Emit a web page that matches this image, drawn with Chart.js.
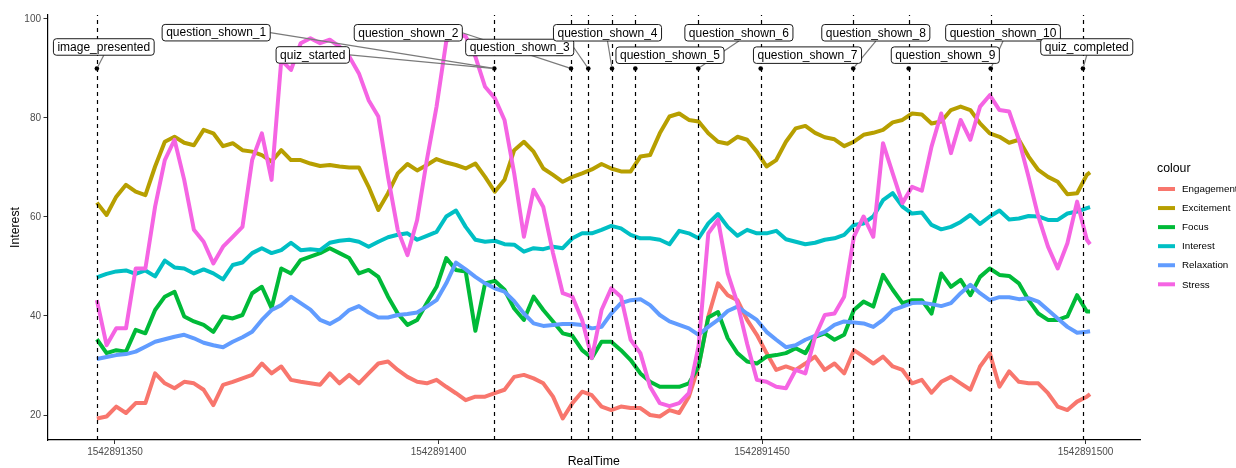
<!DOCTYPE html>
<html>
<head>
<meta charset="utf-8">
<title>Interest over RealTime</title>
<script src="https://cdn.jsdelivr.net/npm/chart.js@4.4.0/dist/chart.umd.min.js"></script>
<style>
  html, body { margin: 0; padding: 0; background: #ffffff; }
  #wrap { width: 1236px; height: 468px; }
</style>
</head>
<body>
<div id="wrap"><canvas id="chart" width="1236" height="468"></canvas></div>
<script>
// ---- data -------------------------------------------------------------
const baseTime = 1542891300;           // RealTime = baseTime + seconds

const seconds = [47.2, 48.7, 50.2, 51.7, 53.2, 54.7, 56.2, 57.7, 59.2, 60.7,
  62.2, 63.7, 65.2, 66.7, 68.2, 69.7, 71.2, 72.7, 74.2, 75.7,
  77.2, 78.7, 80.2, 81.7, 83.2, 84.7, 86.2, 87.7, 89.2, 90.7,
  92.2, 93.7, 95.2, 96.7, 98.2, 99.7, 101.2, 102.7, 104.2, 105.7,
  107.2, 108.7, 110.2, 111.7, 113.2, 114.7, 116.2, 117.7, 119.2, 120.7,
  122.2, 123.7, 125.2, 126.7, 128.2, 129.7, 131.2, 132.7, 134.2, 135.7,
  137.2, 138.7, 140.2, 141.7, 143.2, 144.7, 146.2, 147.7, 149.2, 150.7,
  152.2, 153.7, 155.2, 156.7, 158.2, 159.7, 161.2, 162.7, 164.2, 165.7,
  167.2, 168.7, 170.2, 171.7, 173.2, 174.7, 176.2, 177.7, 179.2, 180.7,
  182.2, 183.7, 185.2, 186.7, 188.2, 189.7, 191.2, 192.7, 194.2, 195.7,
  197.2, 198.7, 200.2, 200.7];

const engagement = [19.3, 19.7, 21.7, 20.4, 22.4, 22.4, 28.4, 26.4, 25.4, 26.7,
  26.4, 25.1, 22.0, 26.1, 26.7, 27.4, 28.1, 30.4, 28.4, 29.8,
  27.1, 26.7, 26.4, 26.1, 28.4, 26.4, 28.1, 26.4, 28.4, 30.4,
  30.8, 29.1, 27.7, 26.7, 26.4, 27.1, 25.7, 24.4, 23.0, 23.7,
  23.7, 24.4, 25.1, 27.7, 28.1, 27.4, 26.4, 23.7, 19.3, 22.4,
  24.7, 24.0, 21.7, 21.0, 21.7, 21.4, 21.4, 20.0, 19.7, 21.0,
  20.4, 23.7, 29.8, 39.9, 46.6, 44.2, 43.2, 39.2, 36.2, 32.5,
  29.1, 29.8, 29.1, 30.4, 31.8, 29.1, 30.4, 28.4, 33.1, 31.8,
  30.4, 31.8, 29.8, 29.1, 26.4, 27.1, 24.5, 26.7, 27.7, 26.4,
  25.1, 29.8, 32.5, 25.7, 28.8, 26.7, 26.4, 26.4, 24.4, 21.7,
  21.0, 22.7, 23.7, 24.2];

const excitement = [62.9, 60.4, 64.1, 66.5, 65.1, 64.4, 70.2, 75.2, 76.2, 75.0,
  74.5, 77.6, 76.9, 74.3, 74.9, 73.5, 73.2, 72.5, 71.2, 73.5,
  71.5, 71.5, 70.8, 70.3, 70.5, 70.2, 70.0, 70.0, 66.1, 61.4,
  64.8, 68.8, 70.7, 69.4, 70.5, 71.7, 71.0, 70.5, 69.8, 70.8,
  68.1, 65.1, 67.5, 73.5, 75.2, 73.2, 69.8, 68.5, 67.1, 68.1,
  68.8, 69.6, 70.7, 69.8, 69.2, 69.2, 72.2, 72.5, 76.9, 80.3,
  80.9, 79.6, 79.3, 76.9, 75.2, 74.8, 76.2, 75.6, 73.2, 70.2,
  71.5, 75.2, 77.9, 78.4, 77.0, 76.1, 75.7, 74.3, 75.2, 76.6,
  77.0, 77.6, 79.1, 79.6, 80.9, 80.7, 78.9, 79.3, 81.6, 82.3,
  81.6, 78.9, 76.9, 76.2, 75.0, 75.6, 72.2, 69.5, 68.1, 67.1,
  64.6, 64.8, 68.5, 69.0];

const focus = [35.3, 32.5, 33.1, 32.8, 37.2, 36.5, 41.2, 43.9, 44.9, 39.9,
  38.9, 38.2, 36.8, 39.9, 39.5, 40.2, 44.6, 45.9, 41.6, 49.6,
  48.6, 51.3, 52.0, 52.7, 53.7, 52.7, 51.7, 48.6, 49.3, 47.9,
  43.9, 40.5, 38.2, 39.2, 42.6, 45.9, 51.7, 49.3, 49.0, 37.0,
  46.6, 47.1, 45.3, 41.5, 39.2, 43.9, 41.2, 38.9, 36.5, 36.0,
  33.1, 31.5, 34.8, 34.8, 33.1, 31.1, 28.4, 26.7, 25.7, 25.7,
  25.7, 26.4, 29.8, 39.7, 40.8, 35.5, 32.5, 30.8, 30.4, 31.8,
  32.1, 32.5, 33.5, 32.5, 35.8, 36.5, 35.2, 36.2, 41.2, 42.9,
  41.9, 48.3, 45.3, 42.6, 43.2, 43.2, 40.5, 48.6, 45.9, 47.3,
  44.2, 47.9, 49.6, 48.3, 48.1, 46.6, 43.2, 40.5, 39.2, 39.2,
  39.9, 44.2, 40.9, 40.9];

const interest = [47.8, 48.5, 49.0, 49.2, 48.5, 49.2, 48.0, 51.2, 49.8, 49.6,
  48.6, 49.4, 48.6, 47.4, 50.3, 50.8, 52.7, 53.7, 52.7, 53.3,
  54.8, 53.3, 53.5, 53.3, 54.8, 55.2, 55.4, 55.0, 54.0, 55.0,
  55.9, 56.4, 56.7, 55.4, 56.2, 57.0, 60.1, 61.3, 58.0, 55.4,
  55.0, 55.2, 54.5, 54.4, 53.0, 53.7, 53.5, 54.0, 53.7, 55.7,
  56.7, 56.7, 57.4, 58.2, 57.7, 56.4, 55.7, 55.7, 55.4, 54.5,
  57.2, 56.7, 55.7, 58.7, 60.6, 58.0, 56.2, 57.4, 56.7, 56.7,
  57.2, 55.5, 55.0, 54.5, 54.8, 55.4, 55.7, 56.4, 58.4, 58.7,
  60.1, 63.4, 64.8, 62.1, 60.7, 60.9, 58.4, 57.5, 58.0, 59.0,
  60.4, 58.6, 60.1, 61.3, 59.5, 59.7, 60.2, 60.1, 59.4, 59.4,
  60.7, 61.1, 61.8, 62.0];

const relaxation = [31.3, 31.7, 32.1, 32.3, 32.8, 33.8, 34.8, 35.3, 35.8, 36.2,
  35.5, 34.6, 34.1, 33.7, 34.8, 35.7, 36.8, 39.2, 41.2, 42.2,
  43.9, 42.6, 41.3, 39.2, 38.4, 39.5, 41.2, 42.0, 40.7, 39.7,
  39.7, 40.2, 40.4, 40.7, 41.9, 43.2, 46.6, 50.8, 49.4, 47.9,
  46.6, 45.6, 44.9, 43.0, 40.5, 38.5, 38.0, 38.2, 38.4, 38.4,
  38.2, 37.5, 37.8, 40.5, 42.6, 43.2, 43.4, 42.2, 40.2, 38.9,
  38.2, 37.5, 36.2, 37.8, 39.2, 41.0, 41.9, 40.5, 39.2, 36.8,
  35.2, 33.7, 34.1, 35.2, 36.0, 36.8, 38.2, 38.9, 38.7, 38.5,
  37.8, 39.2, 41.2, 41.9, 42.6, 42.7, 42.4, 42.0, 42.6, 44.6,
  46.3, 44.6, 43.2, 43.8, 43.8, 43.4, 43.6, 42.9, 41.2, 39.5,
  37.8, 36.6, 36.8, 36.9];

const stress = [43.2, 34.1, 37.5, 37.5, 49.6, 49.6, 62.1, 71.5, 75.6, 67.5,
  57.4, 55.0, 50.6, 54.0, 56.0, 58.0, 71.5, 76.9, 67.5, 91.7,
  89.7, 95.1, 96.1, 95.1, 95.8, 94.4, 92.4, 89.0, 83.6, 80.3,
  68.1, 57.4, 52.3, 59.4, 71.5, 82.3, 95.5, 96.9, 96.5, 92.4,
  86.3, 84.0, 79.6, 68.8, 56.0, 65.5, 62.0, 52.7, 44.6, 43.9,
  39.2, 31.5, 41.2, 45.6, 43.9, 35.2, 32.5, 25.7, 22.4, 21.8,
  22.4, 24.4, 34.0, 56.7, 59.4, 48.6, 42.6, 34.4, 27.1, 26.7,
  25.7, 25.4, 29.1, 28.4, 35.8, 40.2, 40.5, 43.9, 56.0, 60.1,
  56.0, 74.9, 68.8, 62.8, 66.1, 65.3, 74.2, 80.9, 72.9, 79.6,
  75.6, 82.3, 84.6, 81.6, 81.3, 75.6, 68.1, 60.1, 54.0, 49.6,
  54.7, 63.1, 55.4, 54.5];

const seriesNames = ['Engagement', 'Excitement', 'Focus', 'Interest', 'Relaxation', 'Stress'];
const seriesColors = ['#F8766D', '#B79F00', '#00BA38', '#00BFC4', '#619CFF', '#F564E3'];

// session events (seconds after baseTime)
const eventNames = ['image_presented', 'quiz_started', 'question_shown_1', 'question_shown_2',
  'question_shown_3', 'question_shown_4', 'question_shown_5', 'question_shown_6',
  'question_shown_7', 'question_shown_8', 'question_shown_9', 'question_shown_10', 'quiz_completed'];
const eventSeconds = [47.2, 108.63, 108.63, 120.48, 123.15, 126.82, 130.42, 140.15,
  149.8, 164.1, 172.67, 185.35, 199.6];
const eventMarkerLevel = 90;

const xTicks = [1542891350, 1542891400, 1542891450, 1542891500];
const yTicks = [20, 40, 60, 80, 100];

// ---- layout -----------------------------------------------------------
const FONT = "'Liberation Sans', Arial, Helvetica, sans-serif";
const xLimits = [baseTime + 39.57, baseTime + 208.42];
const yLimits = [14.95, 100.8];
// where each event label sits, as [seconds, value]
const eventLabelAt = [[48.27, 94.34], [80.57, 92.73], [65.64, 97.23], [95.33, 97.21],
  [112.55, 94.24], [126.12, 97.21], [135.78, 92.67], [146.43, 97.21],
  [157.03, 92.69], [167.59, 97.21], [178.33, 92.69], [187.25, 97.21], [200.19, 94.34]];

const seriesValues = [engagement, excitement, focus, interest, relaxation, stress];

const datasets = seriesNames.map((name, k) => ({
  label: name,
  data: seconds.map((s, i) => ({ x: baseTime + s, y: seriesValues[k][i] })),
  borderColor: seriesColors[k],
  backgroundColor: seriesColors[k],
  borderWidth: 4,
  borderJoinStyle: 'round',
  pointRadius: 0,
  tension: 0,
  fill: false,
  order: seriesNames.length - k
}));

function roundRect(ctx, x, y, w, h, r) {
  ctx.beginPath();
  ctx.moveTo(x + r, y);
  ctx.lineTo(x + w - r, y);
  ctx.arcTo(x + w, y, x + w, y + r, r);
  ctx.lineTo(x + w, y + h - r);
  ctx.arcTo(x + w, y + h, x + w - r, y + h, r);
  ctx.lineTo(x + r, y + h);
  ctx.arcTo(x, y + h, x, y + h - r, r);
  ctx.lineTo(x, y + r);
  ctx.arcTo(x, y, x + r, y, r);
  ctx.closePath();
}

// dashed event lines, markers and repelled labels
const eventOverlay = {
  id: 'eventOverlay',
  afterDatasetsDraw(chart) {
    const { ctx, chartArea: a, scales: { x, y } } = chart;
    ctx.save();
    const times = [...new Set(eventSeconds)];
    ctx.strokeStyle = '#000000';
    ctx.lineWidth = 1.2;
    ctx.setLineDash([4, 4]);
    times.forEach(s => {
      const px = Math.round(x.getPixelForValue(baseTime + s)) + 0.5;
      ctx.beginPath();
      ctx.moveTo(px, a.bottom);
      ctx.lineTo(px, a.top);
      ctx.stroke();
    });
    ctx.setLineDash([]);

    const py = y.getPixelForValue(eventMarkerLevel);
    ctx.fillStyle = '#000000';
    times.forEach(s => {
      const px = x.getPixelForValue(baseTime + s);
      ctx.beginPath();
      ctx.arc(px, py, 2.3, 0, Math.PI * 2);
      ctx.fill();
    });

    ctx.font = '12px ' + FONT;
    const boxes = eventNames.map((name, i) => {
      const cx = x.getPixelForValue(baseTime + eventLabelAt[i][0]);
      const cy = y.getPixelForValue(eventLabelAt[i][1]);
      const w = ctx.measureText(name).width + 8;
      const h = 16.5;
      return { name, cx, cy, w, h, x0: cx - w / 2, x1: cx + w / 2, y0: cy - h / 2, y1: cy + h / 2,
               px: x.getPixelForValue(baseTime + eventSeconds[i]), py };
    });

    // connector segments
    ctx.strokeStyle = '#7a7a7a';
    ctx.lineWidth = 1.2;
    boxes.forEach(b => {
      const dx = b.px < b.x0 ? b.x0 - b.px : (b.px > b.x1 ? b.px - b.x1 : 0);
      const dy = b.py < b.y0 ? b.y0 - b.py : (b.py > b.y1 ? b.py - b.y1 : 0);
      if (Math.hypot(dx, dy) < 8) return;
      let sx, sy;
      if (b.px > b.x1) { sx = b.x1; sy = b.cy; }
      else if (b.px < b.x0) { sx = b.x0; sy = b.cy; }
      else { sx = b.cx; sy = b.py > b.y1 ? b.y1 : b.y0; }
      const len = Math.hypot(b.px - sx, b.py - sy);
      const ex = b.px - (b.px - sx) / len * 2;
      const ey = b.py - (b.py - sy) / len * 2;
      ctx.beginPath();
      ctx.moveTo(sx, sy);
      ctx.lineTo(ex, ey);
      ctx.stroke();
    });

    // label boxes
    boxes.forEach(b => {
      roundRect(ctx, b.x0, b.y0, b.w, b.h, 3);
      ctx.fillStyle = '#ffffff';
      ctx.fill();
      ctx.strokeStyle = '#000000';
      ctx.lineWidth = 0.9;
      ctx.stroke();
      ctx.fillStyle = '#000000';
      ctx.textAlign = 'center';
      ctx.textBaseline = 'middle';
      ctx.fillText(b.name, b.cx, b.cy + 0.5);
    });
    ctx.restore();
  }
};

// legend on the right, keyed by line colour
const colourLegend = {
  id: 'colourLegend',
  afterDraw(chart) {
    const { ctx } = chart;
    ctx.save();
    ctx.fillStyle = '#000000';
    ctx.textAlign = 'left';
    ctx.textBaseline = 'alphabetic';
    ctx.font = '12.3px ' + FONT;
    ctx.fillText('colour', 1157, 171.5);
    ctx.font = '9.8px ' + FONT;
    ctx.textBaseline = 'middle';
    chart.data.datasets.forEach((ds, i) => {
      const yy = 189 + i * 19.06;
      ctx.strokeStyle = ds.borderColor;
      ctx.lineWidth = 4;
      ctx.lineCap = 'butt';
      ctx.beginPath();
      ctx.moveTo(1158, yy);
      ctx.lineTo(1175, yy);
      ctx.stroke();
      ctx.fillStyle = '#000000';
      ctx.fillText(ds.label, 1182, yy + 0.5);
    });
    ctx.restore();
  }
};

new Chart(document.getElementById('chart'), {
  type: 'line',
  data: { datasets },
  options: {
    responsive: false,
    animation: false,
    events: [],
    devicePixelRatio: 1,
    layout: { padding: { top: 15, right: 96, bottom: 0, left: 0 } },
    plugins: { legend: { display: false }, tooltip: { enabled: false } },
    scales: {
      x: {
        type: 'linear',
        min: xLimits[0],
        max: xLimits[1],
        afterFit: s => { s.height = 28; },
        afterBuildTicks: s => { s.ticks = xTicks.map(v => ({ value: v })); },
        ticks: {
          callback: v => String(v),
          font: { family: FONT, size: 10 },
          color: '#4D4D4D',
          padding: 2,
          maxRotation: 0,
          autoSkip: false
        },
        grid: { drawOnChartArea: false, drawTicks: true, tickLength: 4, tickColor: '#333333', tickWidth: 1 },
        border: { display: true, color: '#000000', width: 1.2 },
        title: {
          display: true, text: 'RealTime', color: '#000000',
          font: { family: FONT, size: 12.3, lineHeight: 1 },
          padding: { top: 0, bottom: 0 }
        }
      },
      y: {
        type: 'linear',
        min: yLimits[0],
        max: yLimits[1],
        afterFit: s => { s.width = 47.5; },
        afterBuildTicks: s => { s.ticks = yTicks.map(v => ({ value: v })); },
        ticks: {
          callback: v => String(v),
          font: { family: FONT, size: 10 },
          color: '#4D4D4D',
          padding: 2.5
        },
        grid: { drawOnChartArea: false, drawTicks: true, tickLength: 4, tickColor: '#333333', tickWidth: 1 },
        border: { display: true, color: '#000000', width: 1.2 },
        title: {
          display: true, text: 'Interest', color: '#000000',
          font: { family: FONT, size: 12.3, lineHeight: 1 },
          padding: { top: 9.5, bottom: 0 }
        }
      }
    }
  },
  plugins: [eventOverlay, colourLegend]
});
</script>
</body>
</html>
